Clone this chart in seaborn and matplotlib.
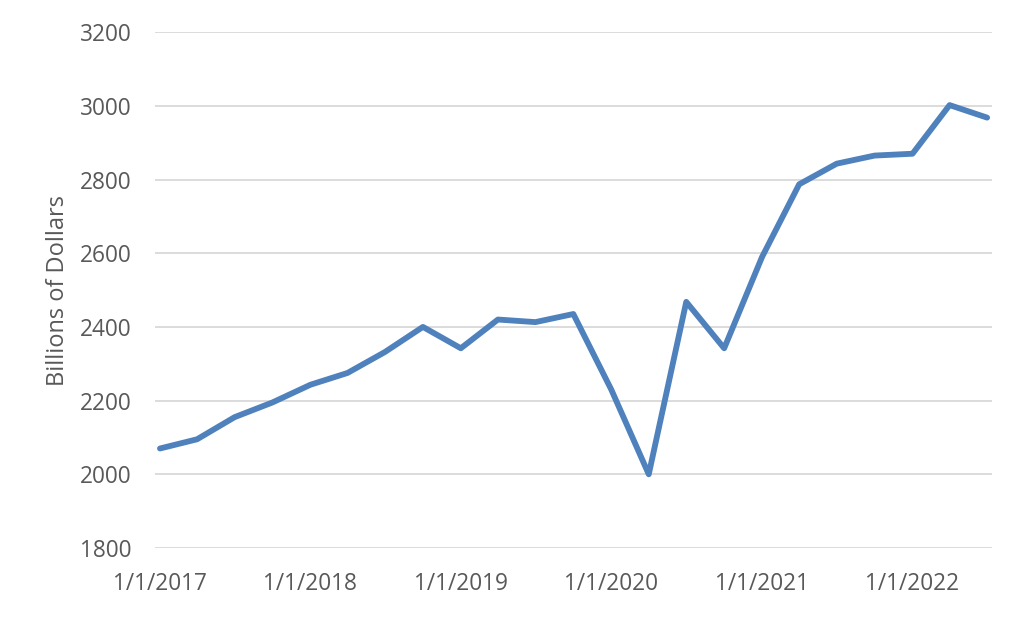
import pandas as pd
import matplotlib
matplotlib.use("Agg")
import matplotlib.pyplot as plt
import seaborn as sns

# --- Data (quarterly) ---
quarters = pd.date_range("2017-01-01", "2022-07-01", freq="QS")
values = [2070, 2095, 2155, 2195, 2243, 2275, 2332, 2400,
          2342, 2420, 2413, 2435, 2230, 2000, 2468, 2342,
          2590, 2787, 2843, 2865, 2870, 3002, 2968]
tick_dates = pd.to_datetime(["2017-01-01", "2018-01-01", "2019-01-01",
                             "2020-01-01", "2021-01-01", "2022-01-01"])
tick_labels = ["1/1/2017", "1/1/2018", "1/1/2019", "1/1/2020", "1/1/2021", "1/1/2022"]
y_ticks = [1800, 2000, 2200, 2400, 2600, 2800, 3000, 3200]

df = pd.DataFrame({"date": quarters, "value": values})

sns.set_theme(style="white")
plt.rcParams['font.family'] = ['Open Sans', 'DejaVu Sans']

TEXT = '#595959'
GRID = '#d9d9d9'

fig = plt.figure(figsize=(10.24, 6.18), dpi=100)
ax = fig.add_axes([0.1514, 0.1133, 0.8174, 0.8347])

sns.lineplot(data=df, x="date", y="value", ax=ax, color='#4f81bd', linewidth=4.2,
             solid_joinstyle='round', solid_capstyle='round', zorder=3)

ax.set_ylim(1800, 3200)
ax.set_yticks(y_ticks)
ax.set_yticklabels([str(v) for v in y_ticks])
pad = pd.Timedelta(days=12)
ax.set_xlim(quarters[0] - pad, quarters[-1] + pad)
ax.set_xticks(tick_dates)
ax.set_xticklabels(tick_labels)

ax.yaxis.grid(True, color=GRID, linewidth=1.3)
ax.xaxis.grid(False)
for s in ax.spines.values():
    s.set_visible(False)
ax.tick_params(axis='both', length=0, labelsize=16.3, colors=TEXT)
ax.tick_params(axis='y', pad=17)
ax.tick_params(axis='x', pad=17)

ax.set_xlabel("")
ax.set_ylabel("Billions of Dollars", fontsize=17, color=TEXT, labelpad=7)

fig.savefig("out.png", dpi=100)
